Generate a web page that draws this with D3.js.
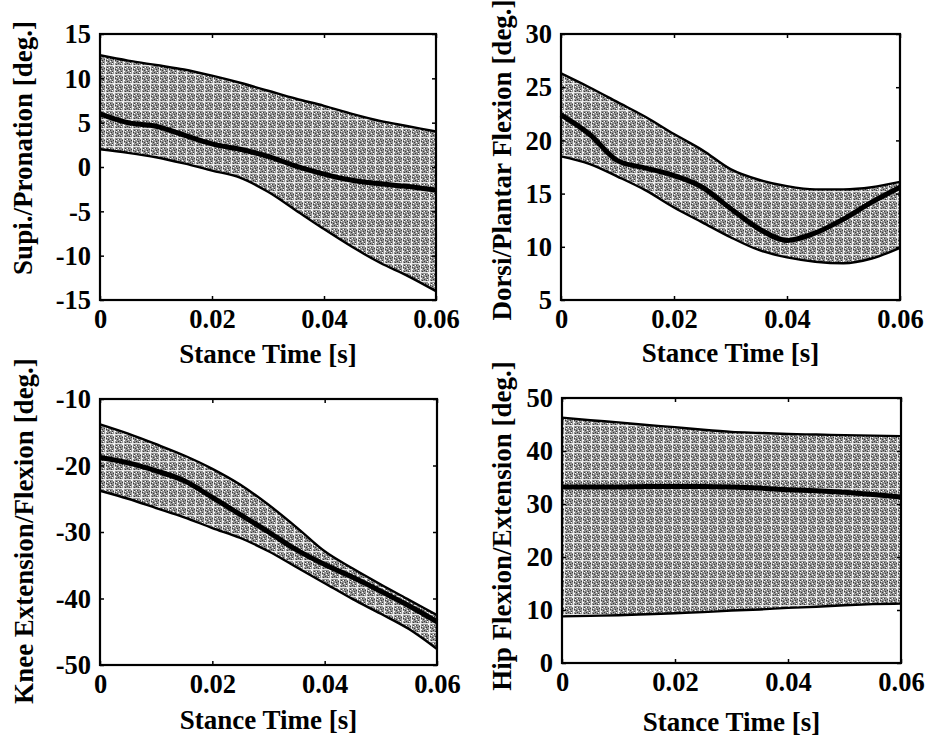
<!DOCTYPE html>
<html>
<head>
<meta charset="utf-8">
<script src="https://cdn.jsdelivr.net/npm/d3@7"></script>
<style>
  body { margin: 0; background: #fff; }
  svg { display: block; }
  text { font-family: "Liberation Serif", "Times New Roman", serif; font-weight: bold; fill: #000; }
</style>
</head>
<body>
<svg id="chart" width="928" height="738"></svg>
<script>
// sample times [s]
const time = [0, 0.005, 0.01, 0.015, 0.02, 0.025, 0.03, 0.035, 0.04, 0.045, 0.05, 0.055, 0.06];
const xTicks = [0, 0.02, 0.04, 0.06];

// Supination / pronation
const supiUpper = [12.6, 12.0, 11.5, 11.0, 10.3, 9.5, 8.6, 7.7, 6.9, 6.0, 5.2, 4.6, 4.0];
const supiMean  = [6.0, 5.0, 4.6, 3.6, 2.6, 2.0, 1.2, 0.1, -0.8, -1.5, -1.9, -2.2, -2.6];
const supiLower = [2.0, 1.6, 1.1, 0.4, -0.4, -1.2, -2.8, -4.9, -7.0, -9.0, -10.8, -12.3, -14.0];
const supiTicks = [-15, -10, -5, 0, 5, 10, 15];

// Dorsi / plantar flexion
const dorsiUpper = [26.3, 25.0, 23.6, 22.2, 20.6, 19.1, 17.3, 16.3, 15.7, 15.4, 15.4, 15.6, 16.1];
const dorsiMean  = [22.4, 20.6, 18.1, 17.4, 16.7, 15.6, 13.6, 11.7, 10.6, 11.3, 12.6, 14.2, 15.6];
const dorsiLower = [18.5, 17.8, 16.6, 15.3, 13.7, 12.3, 10.9, 9.7, 9.0, 8.6, 8.45, 8.9, 9.9];
const dorsiTicks = [5, 10, 15, 20, 25, 30];

// Knee extension / flexion
const kneeUpper = [-13.8, -15.2, -16.8, -18.5, -20.5, -22.9, -25.9, -29.3, -32.9, -35.5, -37.9, -40.2, -42.5];
const kneeMean  = [-18.8, -19.6, -20.8, -22.3, -24.8, -27.4, -30.0, -32.7, -34.9, -36.8, -38.9, -41.1, -43.5];
const kneeLower = [-23.8, -25.0, -26.4, -27.8, -29.4, -30.9, -32.9, -35.3, -37.7, -40.1, -42.3, -44.6, -47.6];
const kneeTicks = [-50, -40, -30, -20, -10];

// Hip flexion / extension
const hipUpper = [46.3, 45.8, 45.4, 44.9, 44.5, 44.0, 43.6, 43.4, 43.2, 43.1, 43.0, 42.9, 42.8];
const hipMean  = [33.2, 33.2, 33.2, 33.3, 33.3, 33.3, 33.2, 33.0, 32.7, 32.5, 32.2, 31.8, 31.3];
const hipLower = [8.8, 8.9, 9.0, 9.2, 9.4, 9.6, 9.9, 10.1, 10.4, 10.6, 10.9, 11.1, 11.2];
const hipTicks = [0, 10, 20, 30, 40, 50];

const xTitle = "Stance Time [s]";

// labelY is the centre of the rotated y title
const panels = [
  { ylabel: "Supi./Pronation [deg.]", upper: supiUpper, mean: supiMean, lower: supiLower,
    ticks: supiTicks, box: [100, 34, 436, 300], labelX: 32, labelY: 148, titleY: 363 },
  { ylabel: "Dorsi/Plantar Flexion [deg.]", upper: dorsiUpper, mean: dorsiMean, lower: dorsiLower,
    ticks: dorsiTicks, box: [561, 34, 900, 300], labelX: 511, labelY: 160, titleY: 362 },
  { ylabel: "Knee Extension/Flexion [deg.]", upper: kneeUpper, mean: kneeMean, lower: kneeLower,
    ticks: kneeTicks, box: [100, 399, 437, 665], labelX: 33, labelY: 531, titleY: 729 },
  { ylabel: "Hip Flexion/Extension [deg.]", upper: hipUpper, mean: hipMean, lower: hipLower,
    ticks: hipTicks, box: [562, 398, 901, 663], labelX: 511, labelY: 526, titleY: 731 }
];

const svg = d3.select("#chart");

// speckled grey fill, like the printed halftone
const defs = svg.append("defs");
const pat = defs.append("pattern")
  .attr("id", "speckle")
  .attr("patternUnits", "userSpaceOnUse")
  .attr("width", 9).attr("height", 9);
pat.append("rect").attr("width", 9).attr("height", 9).attr("fill", "#929292");
pat.append("rect").attr("x", 0).attr("y", 2).attr("width", 9).attr("height", 1).attr("fill", "#e6e6e6");
pat.append("rect").attr("x", 6).attr("y", 0).attr("width", 1).attr("height", 9).attr("fill", "#ececec");
[[1, 0], [3, 1], [8, 1], [2, 4], [5, 5], [0, 7], [4, 8], [7, 6], [3, 6], [8, 4]].forEach(p => {
  pat.append("rect").attr("x", p[0]).attr("y", p[1]).attr("width", 1).attr("height", 1).attr("fill", "#3a3a3a");
});
[[2, 7], [8, 5], [1, 4], [4, 0], [5, 3], [7, 8]].forEach(p => {
  pat.append("rect").attr("x", p[0]).attr("y", p[1]).attr("width", 1).attr("height", 1).attr("fill", "#fff");
});

const hyphen = d => String(d).replace("\u2212", "-");

panels.forEach((p, i) => {
  const [x0, y0, x1, y1] = p.box;
  const yMin = d3.min(p.ticks), yMax = d3.max(p.ticks);

  const x = d3.scaleLinear().domain([0, 0.06]).range([x0, x1]);
  const y = d3.scaleLinear().domain([yMin, yMax]).range([y1, y0]);

  const g = svg.append("g");
  const rows = time.map((t, k) => ({ t: t, hi: p.upper[k], m: p.mean[k], lo: p.lower[k] }));

  // band
  g.append("path")
    .datum(rows)
    .attr("fill", "url(#speckle)")
    .attr("d", d3.area().curve(d3.curveMonotoneX)
      .x(d => x(d.t)).y0(d => y(d.lo)).y1(d => y(d.hi)));

  // bounds
  ["hi", "lo"].forEach(key => {
    g.append("path")
      .datum(rows)
      .attr("fill", "none")
      .attr("stroke", "#000")
      .attr("stroke-width", 2.4)
      .attr("d", d3.line().curve(d3.curveMonotoneX).x(d => x(d.t)).y(d => y(d[key])));
  });

  // mean
  g.append("path")
    .datum(rows)
    .attr("fill", "none")
    .attr("stroke", "#000")
    .attr("stroke-width", 5)
    .attr("stroke-linejoin", "round")
    .attr("d", d3.line().curve(d3.curveMonotoneX).x(d => x(d.t)).y(d => y(d.m)));

  // axes with inward ticks
  const bottom = g.append("g").attr("transform", `translate(0,${y1})`)
    .call(d3.axisBottom(x).tickValues(xTicks).tickSize(-4).tickPadding(8)
      .tickFormat(d => d === 0 ? "0" : d3.format(".2f")(d)));
  const top = g.append("g").attr("transform", `translate(0,${y0})`)
    .call(d3.axisTop(x).tickValues(xTicks).tickSize(-4).tickFormat(""));
  const left = g.append("g").attr("transform", `translate(${x0},0)`)
    .call(d3.axisLeft(y).tickValues(p.ticks).tickSize(-4).tickPadding(10).tickFormat(d => hyphen(d)));
  const right = g.append("g").attr("transform", `translate(${x1},0)`)
    .call(d3.axisRight(y).tickValues(p.ticks).tickSize(-4).tickFormat(""));

  [bottom, top, left, right].forEach(a => {
    a.select(".domain").remove();
    a.selectAll("line").attr("stroke", "#000").attr("stroke-width", 1.5);
    a.selectAll("text")
      .style("font-family", "'Liberation Serif', serif")
      .style("font-weight", "bold")
      .style("font-size", "26.5px");
  });
  bottom.selectAll("text").attr("dy", null).attr("y", 28).attr("dominant-baseline", "auto");
  left.selectAll("text").attr("dy", "0.33em").attr("x", -9);

  // frame
  g.append("rect")
    .attr("x", x0).attr("y", y0)
    .attr("width", x1 - x0).attr("height", y1 - y0)
    .attr("fill", "none")
    .attr("stroke", "#000")
    .attr("stroke-width", 2.2);

  // titles
  g.append("text")
    .attr("x", (x0 + x1) / 2)
    .attr("y", p.titleY)
    .attr("text-anchor", "middle")
    .style("font-size", "27px")
    .text(xTitle);

  g.append("text")
    .attr("transform", `translate(${p.labelX},${p.labelY}) rotate(-90)`)
    .attr("text-anchor", "middle")
    .style("font-size", "27px")
    .text(p.ylabel);
});
</script>
</body>
</html>
